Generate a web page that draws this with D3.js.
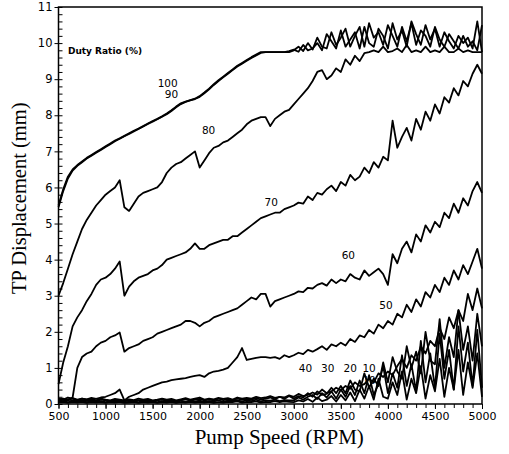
<!DOCTYPE html>
<html>
<head>
<meta charset="utf-8">
<script src="https://cdn.jsdelivr.net/npm/d3@7"></script>
<style>
  body { margin: 0; background: #fff; }
  svg { display: block; }
</style>
</head>
<body>
<div id="chart"></div>
<script>
// pump speed grid (RPM), one reading every 50 RPM
const speeds = d3.range(500, 5001, 50);

// TP displacement (mm) per duty ratio, one row = 500 RPM
const duty100 = [
  5.5, 5.95, 6.3, 6.5, 6.62, 6.72, 6.82, 6.9, 6.98, 7.06,
  7.14, 7.22, 7.3, 7.36, 7.43, 7.5, 7.57, 7.63, 7.7, 7.77,
  7.84, 7.9, 7.97, 8.05, 8.14, 8.24, 8.33, 8.38, 8.42, 8.46,
  8.53, 8.63, 8.74, 8.86, 8.97, 9.07, 9.17, 9.27, 9.37, 9.45,
  9.53, 9.61, 9.68, 9.75, 9.75, 9.75, 9.75, 9.75, 9.75, 9.78,
  9.82, 9.76, 9.95, 9.8, 9.85, 10.0, 9.8, 10.25, 10.05, 9.85,
  10.35, 9.9, 10.1, 10.3, 9.85, 10.45, 10.0, 9.9, 10.4, 10.2,
  9.85, 10.55, 10.1, 10.35, 9.9, 10.6, 10.25, 9.95, 10.5, 10.1,
  10.4, 9.9, 10.3, 10.05, 9.85, 10.2, 10.0, 10.15, 9.85, 10.6,
  9.75
];
const duty90 = [
  5.45, 5.9, 6.25, 6.47, 6.6, 6.7, 6.8, 6.88, 6.96, 7.04,
  7.12, 7.2, 7.28, 7.35, 7.42, 7.48, 7.55, 7.62, 7.69, 7.76,
  7.82, 7.89, 7.96, 8.03, 8.12, 8.22, 8.31, 8.37, 8.41, 8.45,
  8.51, 8.61, 8.72, 8.84, 8.95, 9.05, 9.15, 9.25, 9.35, 9.43,
  9.51, 9.59, 9.66, 9.73, 9.75, 9.75, 9.75, 9.75, 9.75, 9.75,
  9.8, 9.9, 9.78, 10.0, 9.82, 10.15, 9.9, 9.85, 10.3, 9.95,
  10.15, 10.4, 9.9, 10.2, 10.45, 9.9, 10.55, 10.15, 10.3, 9.95,
  10.5, 10.2, 9.9, 10.45, 10.05, 10.55, 9.95, 10.35, 10.2, 9.9,
  10.45, 10.1, 9.9, 10.25, 10.05, 9.85, 10.2, 9.9, 10.05, 9.8,
  10.5
];
const duty80 = [
  3.0, 3.35, 3.75, 4.15, 4.5, 4.85, 5.1, 5.3, 5.5, 5.65,
  5.8, 5.9, 6.0, 6.2, 5.45, 5.35, 5.55, 5.75, 5.85, 5.9,
  5.95, 6.0, 6.15, 6.4, 6.55, 6.65, 6.7, 6.8, 6.9, 7.0,
  6.55, 6.75, 6.95, 7.1, 7.15, 7.25, 7.3, 7.4, 7.5, 7.6,
  7.75, 7.85, 7.9, 7.95, 7.95, 7.7, 7.9, 8.0, 8.1, 8.15,
  8.3, 8.45, 8.6, 8.75, 8.95, 9.2, 9.25, 9.0, 9.1, 9.3,
  9.2, 9.55, 9.4, 9.65, 9.5, 9.72, 9.75, 9.8, 9.75, 9.9,
  9.75, 9.78, 9.85, 9.75, 9.95, 9.75, 9.8, 9.75, 9.9, 9.75,
  9.8, 9.75, 9.9, 9.75, 9.75, 9.85, 9.75, 9.8, 9.75, 9.75,
  9.75
];
const duty70 = [
  0.55, 1.15, 1.6, 2.15, 2.4, 2.6, 2.85, 3.05, 3.3, 3.45,
  3.5, 3.6, 3.75, 3.95, 3.0, 3.25, 3.4, 3.5, 3.55, 3.6,
  3.7, 3.75, 3.85, 4.0, 4.05, 4.1, 4.15, 4.2, 4.3, 4.45,
  4.3, 4.3, 4.4, 4.45, 4.5, 4.55, 4.55, 4.65, 4.65, 4.75,
  4.85, 4.95, 5.05, 5.15, 5.2, 5.25, 5.3, 5.3, 5.4, 5.45,
  5.5, 5.58, 5.55, 5.75, 5.65, 5.85, 5.8, 5.95, 6.05, 5.9,
  6.15, 6.05, 6.35, 6.2, 6.3, 6.55, 6.4, 6.7, 6.55, 6.85,
  6.75, 7.85, 7.1, 7.4, 7.65, 7.3, 7.9, 7.6, 8.1, 7.85,
  8.3, 8.05, 8.5, 8.35, 8.75, 8.55, 8.95, 8.8, 9.15, 9.4,
  9.15
];
const duty60 = [
  0.12, 0.15, 0.1, 0.18, 1.0, 1.3, 1.4, 1.45, 1.6, 1.7,
  1.75, 1.85, 1.9, 1.98, 1.45, 1.55, 1.6, 1.65, 1.75, 1.8,
  1.85, 1.95, 2.0, 2.05, 2.1, 2.15, 2.2, 2.3, 2.3, 2.25,
  2.15, 2.25, 2.3, 2.4, 2.45, 2.5, 2.55, 2.6, 2.65, 2.75,
  2.85, 2.95, 2.9, 3.05, 3.05, 2.7, 2.85, 2.9, 2.95, 3.0,
  3.05, 3.12, 3.1, 3.22, 3.2, 3.3, 3.35, 3.28, 3.45, 3.35,
  3.45, 3.4, 3.6, 3.5, 3.45, 3.7, 3.55, 3.65, 3.75, 3.6,
  3.3, 4.15, 3.9, 4.3, 4.5, 4.2, 4.7, 4.5, 4.95, 4.75,
  5.05, 4.9, 5.3, 5.15, 5.55, 5.3, 5.7, 5.5, 5.9, 6.15,
  5.85
];
const duty50 = [
  0.1, 0.14, 0.12, 0.16, 0.12, 0.15, 0.13, 0.17, 0.14, 0.18,
  0.2, 0.25, 0.3, 0.4, 0.1, 0.2, 0.25, 0.3, 0.4, 0.45,
  0.5, 0.55, 0.6, 0.62, 0.66, 0.68, 0.7, 0.72, 0.75, 0.78,
  0.8, 0.75, 0.85, 0.9, 0.92, 0.95, 1.0, 1.15, 1.3, 1.55,
  1.22, 1.25, 1.28, 1.3, 1.3, 1.28, 1.3, 1.25, 1.35, 1.3,
  1.35, 1.42, 1.38, 1.5, 1.45, 1.52, 1.6, 1.5, 1.65, 1.6,
  1.7, 1.62, 1.8, 1.72, 1.9, 1.85, 2.05, 1.95, 2.2, 2.1,
  2.3, 2.2, 2.5, 2.4, 2.75, 2.55, 2.9, 2.7, 3.1, 2.95,
  3.3, 3.1, 3.5, 3.3, 3.7, 3.45, 3.85, 3.6, 3.95, 4.3,
  3.75
];
const duty40 = [
  0.15, 0.12, 0.18, 0.15, 0.1, 0.15, 0.12, 0.14, 0.1, 0.15,
  0.12, 0.1, 0.14, 0.12, 0.1, 0.13, 0.11, 0.15, 0.12, 0.14,
  0.1, 0.12, 0.15, 0.12, 0.14, 0.1, 0.13, 0.16, 0.12, 0.15,
  0.18, 0.12, 0.15, 0.13, 0.17, 0.14, 0.16, 0.12, 0.18, 0.15,
  0.17, 0.15, 0.2, 0.16, 0.18, 0.22, 0.17, 0.2, 0.18, 0.24,
  0.2, 0.28, 0.22, 0.25, 0.32, 0.26, 0.4, 0.3, 0.35, 0.45,
  0.38, 0.5, 0.42, 0.6, 0.5, 0.55, 0.7, 0.6, 0.85, 0.75,
  0.9, 0.8, 1.05, 1.25, 1.0, 1.35, 1.2, 1.6, 1.4, 1.75,
  1.6, 2.1, 1.8, 2.4, 2.1, 2.6, 2.3, 3.05, 2.6, 3.2,
  2.65
];
const duty30 = [
  0.1, 0.08, 0.12, 0.1, 0.07, 0.11, 0.09, 0.1, 0.08, 0.12,
  0.1, 0.08, 0.1, 0.09, 0.07, 0.1, 0.08, 0.11, 0.09, 0.1,
  0.08, 0.1, 0.12, 0.09, 0.1, 0.08, 0.11, 0.13, 0.09, 0.12,
  0.14, 0.1, 0.12, 0.1, 0.15, 0.11, 0.13, 0.1, 0.15, 0.12,
  0.14, 0.12, 0.16, 0.12, 0.15, 0.18, 0.13, 0.2, 0.14, 0.22,
  0.15, 0.22, 0.18, 0.3, 0.2, 0.35, 0.25, 0.28, 0.45, 0.3,
  0.5, 0.3, 0.65, 0.4, 0.35, 0.85, 0.45, 0.7, 0.5, 1.15,
  0.6, 1.3, 0.9, 0.7, 1.6, 1.0, 1.45, 0.85, 2.0, 1.2,
  1.1, 2.35, 1.0, 1.85, 1.3, 2.6, 1.5, 2.15, 1.2, 2.5,
  1.6
];
const duty20 = [
  0.06, 0.08, 0.05, 0.07, 0.06, 0.09, 0.05, 0.07, 0.06, 0.08,
  0.05, 0.07, 0.06, 0.08, 0.05, 0.06, 0.07, 0.05, 0.08, 0.06,
  0.07, 0.05, 0.08, 0.06, 0.07, 0.05, 0.09, 0.06, 0.08, 0.07,
  0.09, 0.06, 0.08, 0.07, 0.1, 0.06, 0.09, 0.08, 0.1, 0.07,
  0.1, 0.08, 0.12, 0.07, 0.1, 0.09, 0.12, 0.08, 0.11, 0.1,
  0.1, 0.18, 0.12, 0.2, 0.25, 0.14, 0.3, 0.18, 0.35, 0.15,
  0.4, 0.2, 0.5, 0.25, 0.65, 0.3, 0.8, 0.25, 0.55, 1.05,
  0.3, 0.85, 0.45, 1.35, 0.5, 1.1, 0.35, 1.75, 0.6, 1.4,
  0.45, 1.95, 0.7, 1.5, 0.4, 2.15, 0.9, 1.7, 0.5, 2.05,
  0.45
];
const duty10 = [
  0.04, 0.05, 0.03, 0.05, 0.04, 0.06, 0.03, 0.05, 0.04, 0.05,
  0.03, 0.05, 0.04, 0.06, 0.03, 0.04, 0.05, 0.03, 0.05, 0.04,
  0.05, 0.03, 0.05, 0.04, 0.06, 0.03, 0.05, 0.04, 0.06, 0.04,
  0.05, 0.04, 0.06, 0.03, 0.05, 0.04, 0.06, 0.05, 0.07, 0.04,
  0.06, 0.05, 0.07, 0.04, 0.06, 0.05, 0.08, 0.05, 0.07, 0.06,
  0.05, 0.1, 0.07, 0.14, 0.06, 0.18, 0.08, 0.12, 0.22, 0.07,
  0.25, 0.1, 0.32, 0.08, 0.4, 0.15, 0.5, 0.12, 0.7, 0.2,
  0.15, 0.6, 0.25, 0.9, 0.12, 0.7, 0.3, 1.05, 0.15, 0.8,
  0.35, 1.25, 0.2, 1.0, 0.4, 1.5, 0.25, 1.15, 0.45, 1.4,
  0.2
];

const series = [duty10, duty20, duty30, duty40, duty50, duty60, duty70, duty80, duty90, duty100];

const xTicks = [500, 1000, 1500, 2000, 2500, 3000, 3500, 4000, 4500, 5000];
const yTicks = [0, 1, 2, 3, 4, 5, 6, 7, 8, 9, 10, 11];

// curve labels, placed in data units (RPM, mm)
const labels = [
  { text: "Duty Ratio (%)", rpm: 600, mm: 9.7, anchor: "start", bold: true },
  { text: "100", rpm: 1660, mm: 8.78 },
  { text: "90", rpm: 1700, mm: 8.47 },
  { text: "80", rpm: 2095, mm: 7.48 },
  { text: "70", rpm: 2760, mm: 5.48 },
  { text: "60", rpm: 3580, mm: 4.02 },
  { text: "50", rpm: 3980, mm: 2.63 },
  { text: "40", rpm: 3125, mm: 0.89 },
  { text: "30", rpm: 3360, mm: 0.89 },
  { text: "20", rpm: 3600, mm: 0.89 },
  { text: "10", rpm: 3800, mm: 0.89 },
  { text: "10", rpm: 3800, mm: 0.55 }
];

const width = 509;
const height = 454;
const margin = { top: 7, right: 27, bottom: 50, left: 58.5 };

const x = d3
  .scaleLinear()
  .domain([500, 5000])
  .range([margin.left, width - margin.right]);

const y = d3
  .scaleLinear()
  .domain([0, 11])
  .range([height - margin.bottom, margin.top]);

const svg = d3
  .select("#chart")
  .append("svg")
  .attr("width", width)
  .attr("height", height)
  .attr("viewBox", [0, 0, width, height]);

svg.append("rect").attr("width", width).attr("height", height).attr("fill", "#fff");

// curves
const line = d3
  .line()
  .x((d, i) => x(speeds[i]))
  .y((d) => y(d));

svg
  .append("g")
  .attr("fill", "none")
  .attr("stroke", "#000")
  .attr("stroke-width", 1.8)
  .attr("stroke-linejoin", "round")
  .selectAll("path")
  .data(series)
  .join("path")
  .attr("d", line);

/* AXES */
const x0 = height - margin.bottom;

// minor x ticks every 100 RPM
svg
  .append("g")
  .attr("transform", `translate(0,${x0})`)
  .call(d3.axisBottom(x).tickValues(d3.range(500, 5001, 100)).tickSize(4).tickFormat(""))
  .call((g) => g.select(".domain").remove());

svg
  .append("g")
  .attr("transform", `translate(0,${x0})`)
  .call(d3.axisBottom(x).tickValues(xTicks).tickSize(5).tickPadding(3).tickFormat(d3.format("d")))
  .call((g) => g.select(".domain").remove())
  .call((g) =>
    g.selectAll("text").attr("font-family", "DejaVu Sans").attr("font-size", 11).attr("fill", "#000")
  );

// minor y ticks every 0.2 mm, pointing inward
svg
  .append("g")
  .attr("transform", `translate(${margin.left},0)`)
  .call(d3.axisRight(y).tickValues(d3.range(0, 11.01, 0.2)).tickSize(4).tickFormat(""))
  .call((g) => g.select(".domain").remove());

svg
  .append("g")
  .attr("transform", `translate(${margin.left},0)`)
  .call(d3.axisLeft(y).tickValues(yTicks).tickSize(4).tickPadding(2))
  .call((g) => g.select(".domain").remove())
  .call((g) =>
    g.selectAll("text").attr("font-family", "DejaVu Sans").attr("font-size", 11.5).attr("fill", "#000")
  );

// frame
svg
  .append("rect")
  .attr("x", x(500))
  .attr("y", y(11))
  .attr("width", x(5000) - x(500))
  .attr("height", y(0) - y(11))
  .attr("fill", "none")
  .attr("stroke", "#000")
  .attr("stroke-width", 1.5);

// axis titles
svg
  .append("text")
  .attr("x", (x(500) + x(5000)) / 2 + 9)
  .attr("y", 444)
  .attr("text-anchor", "middle")
  .attr("font-family", "Liberation Serif")
  .attr("font-size", 21)
  .text("Pump Speed (RPM)");

svg
  .append("text")
  .attr("transform", `translate(26,${y(5.7)}) rotate(-90)`)
  .attr("text-anchor", "middle")
  .attr("font-family", "Liberation Serif")
  .attr("font-size", 20.5)
  .text("TP Displacement (mm)");

// curve labels
svg
  .append("g")
  .attr("font-family", "DejaVu Sans")
  .selectAll("text")
  .data(labels)
  .join("text")
  .attr("x", (d) => x(d.rpm))
  .attr("y", (d) => y(d.mm))
  .attr("text-anchor", (d) => d.anchor || "middle")
  .attr("font-size", (d) => (d.bold ? 9 : 10.5))
  .attr("font-weight", (d) => (d.bold ? "bold" : "normal"))
  .text((d) => d.text);
</script>
</body>
</html>
